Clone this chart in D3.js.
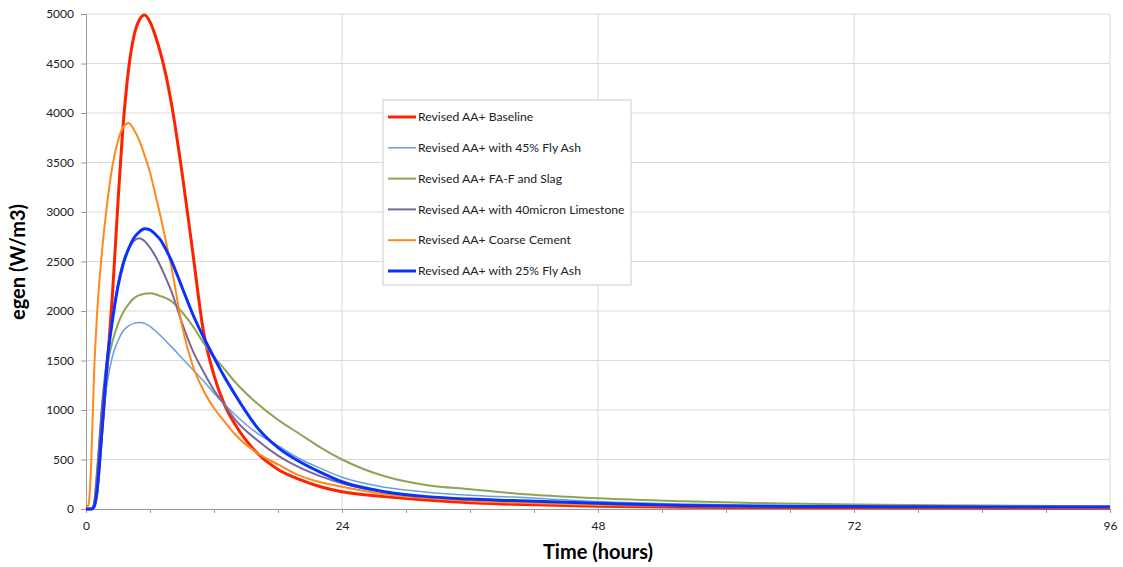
<!DOCTYPE html>
<html>
<head>
<meta charset="utf-8">
<script src="https://cdn.jsdelivr.net/npm/d3@7"></script>
<style>
  body { margin: 0; background: #fff; }
  text { font-family: Lato, "Open Sans", sans-serif; }
</style>
</head>
<body>
<script>
// time grid (hours) shared by all series
var times = [0, 0.25, 0.5, 0.75, 1, 1.5, 2, 2.5, 3, 3.5, 4, 4.5, 5, 5.5, 6, 6.5, 7, 7.5, 8, 9, 10, 11, 12, 13, 14, 16, 18, 20, 22, 24, 28, 32, 36, 40, 48, 56, 64, 72, 80, 88, 96];

// egen values (W/m3)
var baseline = [0, 0, 0, 30, 150, 800, 1450, 2200, 3100, 3900, 4450, 4780, 4940, 4990, 4920, 4780, 4600, 4380, 4100, 3400, 2600, 1800, 1350, 1050, 850, 570, 400, 300, 225, 175, 125, 90, 62, 48, 28, 18, 14, 12, 10, 8, 8];
var flyAsh45 = [0, 0, 0, 40, 250, 850, 1280, 1550, 1700, 1800, 1850, 1875, 1885, 1875, 1845, 1800, 1750, 1695, 1640, 1525, 1410, 1295, 1170, 1055, 950, 770, 640, 510, 410, 320, 220, 170, 140, 120, 75, 50, 38, 30, 25, 22, 20];
var faSlag = [0, 0, 0, 50, 350, 1000, 1450, 1700, 1870, 1990, 2070, 2130, 2160, 2175, 2180, 2170, 2150, 2130, 2100, 1990, 1850, 1680, 1540, 1410, 1280, 1070, 900, 760, 620, 500, 330, 240, 200, 160, 108, 78, 58, 45, 38, 32, 28];
var limestone = [0, 0, 0, 50, 300, 1050, 1550, 1950, 2270, 2500, 2630, 2710, 2735, 2705, 2640, 2555, 2450, 2330, 2200, 1880, 1600, 1390, 1200, 1050, 900, 700, 540, 420, 330, 260, 170, 120, 95, 78, 52, 34, 27, 23, 20, 18, 17];
var coarse = [0, 50, 500, 1350, 1900, 2600, 3100, 3480, 3720, 3860, 3900, 3830, 3720, 3570, 3400, 3180, 2950, 2700, 2450, 1850, 1450, 1200, 1020, 880, 750, 570, 450, 340, 270, 225, 150, 110, 82, 65, 40, 30, 24, 20, 17, 14, 12];
var flyAsh25 = [0, 0, 0, 20, 150, 800, 1500, 1920, 2250, 2480, 2630, 2740, 2800, 2830, 2820, 2775, 2715, 2620, 2510, 2240, 1970, 1740, 1530, 1330, 1150, 830, 620, 480, 370, 275, 175, 125, 100, 85, 57, 35, 28, 25, 22, 20, 20];

var seriesNames = ["Revised AA+ Baseline", "Revised AA+ with 45% Fly Ash", "Revised AA+ FA-F and Slag",
                   "Revised AA+ with 40micron Limestone", "Revised AA+ Coarse Cement", "Revised AA+ with 25% Fly Ash"];
var seriesValues = [baseline, flyAsh45, faSlag, limestone, coarse, flyAsh25];
var colors = ["#ff2200", "#6a9fdc", "#8da654", "#7a6798", "#ff8a1a", "#0a32ff"];
var widths = [3, 1.5, 2, 2, 2, 3];

var xTicks = [0, 24, 48, 72, 96];
var yTicks = d3.range(0, 5001, 500);

var width = 1123, height = 567;
var margin = {top: 14, right: 13, bottom: 58, left: 86};
var innerW = width - margin.left - margin.right,
    innerH = height - margin.top - margin.bottom;

var svg = d3.select("body").append("svg")
    .attr("width", width)
    .attr("height", height);

var g = svg.append("g")
    .attr("transform", "translate(" + margin.left + "," + margin.top + ")");

var x = d3.scaleLinear().domain([0, 96]).range([0, innerW]);
var y = d3.scaleLinear().domain([0, 5000]).range([innerH, 0]);

// gridlines
g.selectAll(".hgrid")
  .data(yTicks.filter(function(d) { return d > 0; }))
  .enter().append("line")
  .attr("x1", 0).attr("x2", innerW)
  .attr("y1", function(d) { return y(d); })
  .attr("y2", function(d) { return y(d); })
  .attr("stroke", "#d9d9d9");

g.selectAll(".vgrid")
  .data(xTicks.filter(function(d) { return d > 0; }))
  .enter().append("line")
  .attr("y1", 0).attr("y2", innerH)
  .attr("x1", function(d) { return x(d); })
  .attr("x2", function(d) { return x(d); })
  .attr("stroke", "#d9d9d9");

// axes
var yAxis = g.append("g")
    .call(d3.axisLeft(y).tickValues(yTicks).tickSize(5).tickPadding(7).tickFormat(d3.format("d")));
var xMinor = g.append("g")
    .attr("transform", "translate(0," + innerH + ")")
    .call(d3.axisBottom(x).tickValues(d3.range(0, 97, 6)).tickSize(4).tickFormat(""));
var xAxis = g.append("g")
    .attr("transform", "translate(0," + innerH + ")")
    .call(d3.axisBottom(x).tickValues(xTicks).tickSize(4).tickPadding(8));

[yAxis, xAxis, xMinor].forEach(function(a) {
  a.select(".domain").attr("stroke", "#999");
  a.selectAll(".tick line").attr("stroke", "#999");
  a.selectAll("text").attr("font-size", "12px").attr("fill", "#222")
    .attr("font-family", "Lato, sans-serif");
});

// lines
var line = d3.line()
    .x(function(d, i) { return x(times[i]); })
    .y(function(d) { return y(d); })
    .curve(d3.curveMonotoneX);

g.selectAll(".series")
  .data(seriesValues)
  .enter().append("path")
  .attr("fill", "none")
  .attr("stroke", function(d, i) { return colors[i]; })
  .attr("stroke-width", function(d, i) { return widths[i]; })
  .attr("stroke-linejoin", "round")
  .attr("d", line);

// legend
var legend = svg.append("g").attr("transform", "translate(383,100)");
legend.append("rect")
  .attr("width", 248).attr("height", 185)
  .attr("fill", "#fff").attr("stroke", "#cccccc");

var items = legend.selectAll(".item")
  .data(seriesNames)
  .enter().append("g")
  .attr("transform", function(d, i) { return "translate(0," + (17 + i * 30.8) + ")"; });

items.append("line")
  .attr("x1", 5).attr("x2", 33)
  .attr("stroke", function(d, i) { return colors[i]; })
  .attr("stroke-width", function(d, i) { return widths[i]; });

items.append("text")
  .attr("x", 35).attr("dy", "0.35em")
  .attr("font-size", "12.2px").attr("fill", "#222")
  .text(function(d) { return d; });

// axis titles
svg.append("text")
  .attr("x", 598).attr("y", 559)
  .attr("text-anchor", "middle")
  .attr("font-size", "20px").attr("font-weight", "bold")
  .text("Time (hours)");

svg.append("text")
  .attr("transform", "translate(25," + 262 + ") rotate(-90)")
  .attr("text-anchor", "middle")
  .attr("font-size", "20px").attr("font-weight", "bold")
  .text("egen (W/m3)");
</script>
</body>
</html>
